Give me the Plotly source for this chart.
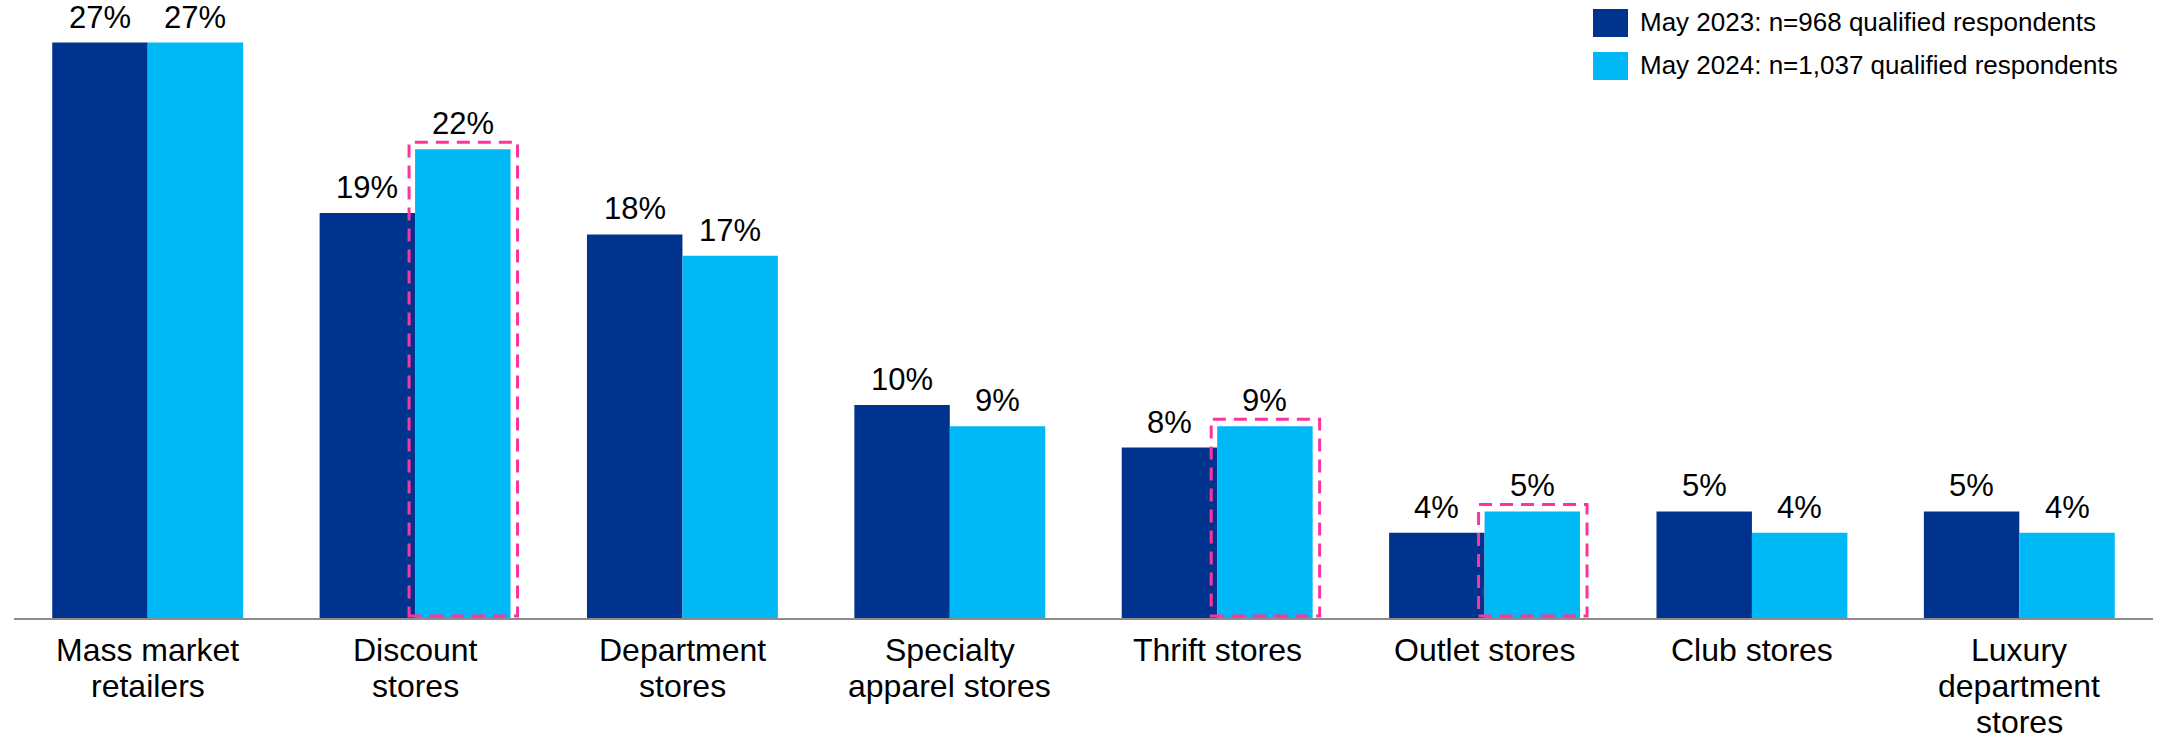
import plotly.graph_objects as go

# Share of respondents by store type, two survey waves
categories = [
    "Mass market<br>retailers",
    "Discount<br>stores",
    "Department<br>stores",
    "Specialty<br>apparel stores",
    "Thrift stores",
    "Outlet stores",
    "Club stores",
    "Luxury<br>department<br>stores",
]
may_2023 = [27, 19, 18, 10, 8, 4, 5, 5]
may_2024 = [27, 22, 17, 9, 9, 5, 4, 4]
series_names = [
    "May 2023: n=968 qualified respondents",
    "May 2024: n=1,037 qualified respondents",
]
# categories whose 2024 bar is outlined
highlighted = [1, 4, 5]

DARK = "#00338D"
LIGHT = "#00B8F5"
PINK = "#FD349C"
FONT = "Liberation Sans, Arial, sans-serif"

W, H = 2158, 740
M_L, M_R, M_T, M_B = 14, 5, 0, 122
Y_MAX = 29.0
BARGAP = 0.286

plot_w = W - M_L - M_R
plot_h = H - M_T - M_B
px_x = plot_w / len(categories)      # pixels per category unit
px_y = plot_h / Y_MAX                # pixels per percentage point
half = (1 - BARGAP) / 2              # width of one bar in category units

xs = list(range(len(categories)))

fig = go.Figure()
for vals, color, name in [(may_2023, DARK, series_names[0]), (may_2024, LIGHT, series_names[1])]:
    fig.add_trace(go.Bar(
        x=xs, y=vals, name=name, marker=dict(color=color, line=dict(width=0)),
        showlegend=False, hoverinfo="skip",
    ))

# value labels above each bar
for i in xs:
    for vals, off in [(may_2023, -half / 2), (may_2024, half / 2)]:
        fig.add_annotation(
            x=i + off, y=vals[i], xref="x", yref="y",
            text=f"{vals[i]}%", showarrow=False,
            xanchor="center", yanchor="bottom", yshift=6,
            font=dict(family=FONT, size=31, color="#000000"),
        )

# category labels under the axis, one line at a time for tighter leading
LINE_GAP = 36
for i, label in zip(xs, categories):
    for k, line in enumerate(label.split("<br>")):
        fig.add_annotation(
            x=i, y=0, xref="x", yref="y",
            text=line, showarrow=False, borderpad=0,
            xanchor="center", yanchor="middle", yshift=-(32 + k * LINE_GAP),
            font=dict(family=FONT, size=32, color="#000000"),
        )

# dashed outlines around highlighted 2024 bars
for i in highlighted:
    fig.add_shape(
        type="rect", xref="x", yref="y",
        x0=i - 6 / px_x, x1=i + half + 7 / px_x,
        y0=2 / px_y, y1=may_2024[i] + 7 / px_y,
        line=dict(color=PINK, width=3, dash="13px,8px"),
        fillcolor="rgba(0,0,0,0)", layer="above",
    )

# legend: swatches and labels
sw_x0, sw_x1 = 1593, 1628
rows = [(9, 37), (52, 80)]
for (top, bot), color, name in zip(rows, [DARK, LIGHT], series_names):
    fig.add_shape(
        type="rect", xref="paper", yref="paper",
        x0=(sw_x0 - M_L) / plot_w, x1=(sw_x1 - M_L) / plot_w,
        y0=(plot_h - bot) / plot_h, y1=(plot_h - top) / plot_h,
        line=dict(width=0), fillcolor=color,
    )
    fig.add_annotation(
        xref="paper", yref="paper",
        x=(1638 - M_L) / plot_w, y=(plot_h - (top + bot) / 2 + 1) / plot_h,
        text=name, showarrow=False, xanchor="left", yanchor="middle",
        font=dict(family=FONT, size=26, color="#000000"),
    )

fig.update_layout(
    width=W, height=H,
    margin=dict(l=M_L, r=M_R, t=M_T, b=M_B),
    barmode="group", bargap=BARGAP, bargroupgap=0,
    plot_bgcolor="white", paper_bgcolor="white",
    font=dict(family=FONT, color="#000000"),
)
fig.update_xaxes(
    tickmode="array", tickvals=xs, ticktext=[""] * len(xs),
    range=[-0.5, len(categories) - 0.5],
    showline=True, linecolor="#8C8C8C", linewidth=2,
    showgrid=False, zeroline=False, ticks="",
)
fig.update_yaxes(
    range=[0, Y_MAX], visible=False, showgrid=False, zeroline=False,
)

fig.write_html("out.html")
